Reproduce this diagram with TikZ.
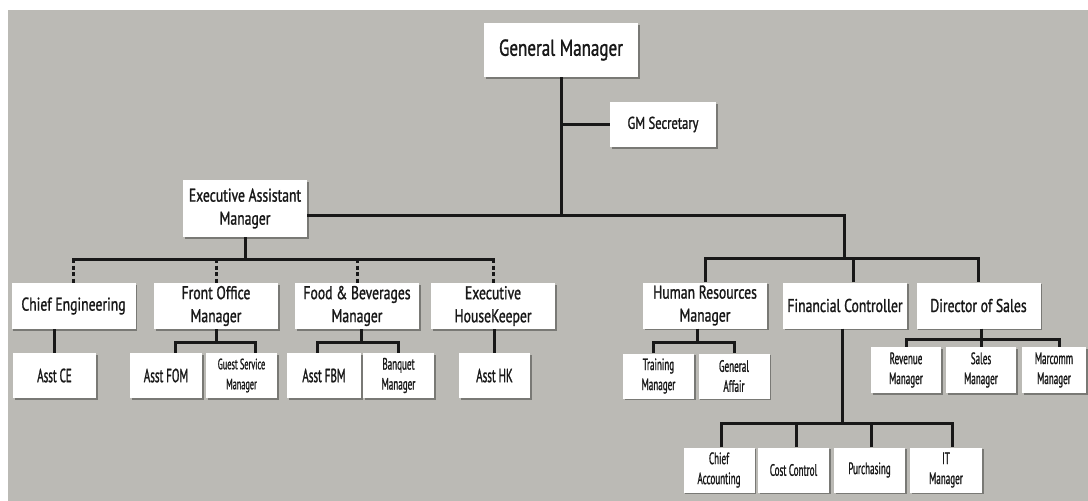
\documentclass[tikz,border=0pt]{standalone}
\usepackage{fontspec}
\setmainfont{PT Sans}[FakeStretch=0.74, FakeBold=1.2]
\newfontfamily\narrowfont{PT Sans}[FakeStretch=0.58, FakeBold=1.2]
\newfontfamily\tallfont{PT Sans}[FakeStretch=0.55, FakeBold=1]
\usetikzlibrary{shadows}
\definecolor{bggray}{RGB}{187,186,181}
\definecolor{ink}{RGB}{24,24,24}
\tikzset{
  box/.style={fill=white, text=ink, align=center, inner sep=0pt,
    drop shadow={shadow xshift=1.5pt, shadow yshift=-1.5pt, fill=black, opacity=0.35}},
  gmbox/.style={box, minimum width=154, minimum height=54, font=\fontsize{23}{26}\selectfont},
  deptbox/.style={box, minimum width=124, minimum height=46, font=\fontsize{18.5}{23}\selectfont},
  asstbox/.style={box, minimum width=72, minimum height=45, font=\narrowfont\fontsize{19}{20}\selectfont},
  subbox/.style={box, minimum width=71, minimum height=45, font=\tallfont\fontsize{16.5}{20}\selectfont},
  conn/.style={line width=3pt, draw=ink},
  dashstub/.style={conn, dash pattern=on 4pt off 2.5pt},
}
\begin{document}
\begin{tikzpicture}[x=1pt,y=-1pt]
\useasboundingbox (0,0) rectangle (1088,501);
\fill[white] (0,0) rectangle (1088,501);
\fill[bggray] (8,10) rectangle (1088,501);

% top of the chart
\node[gmbox] (gm) at (561,50) {General Manager};
\node[deptbox, minimum width=106, minimum height=45, font=\fontsize{17}{20}\selectfont] (sec) at (663,124.5) {GM Secretary};
\node[deptbox, minimum height=57] (eam) at (245,208.5) {Executive Assistant\\Manager};

% departments
\node[deptbox] (ce) at (73.5,306) {Chief Engineering};
\node[deptbox] (fom) at (216,306) {Front Office\\Manager};
\node[deptbox] (fb) at (357,306) {Food \& Beverages\\Manager};
\node[deptbox] (ehk) at (493,306) {Executive\\HouseKeeper};
\node[deptbox] (hr) at (705,305.5) {Human Resources\\Manager};
\node[deptbox] (fc) at (845,305.5) {Financial Controller};
\node[deptbox] (ds) at (978.5,305.5) {Director of Sales};

% sections
\node[asstbox, minimum width=83] (ace) at (54.5,375.5) {Asst CE};
\node[asstbox] (afom) at (166,375.5) {Asst FOM};
\node[subbox, font=\tallfont\fontsize{15}{20}\selectfont] (gsm) at (241.5,375.5) {Guest Service\\Manager};
\node[asstbox, minimum width=74] (afbm) at (324,375.5) {Asst FBM};
\node[subbox] (bqm) at (398.5,375.5) {Banquet\\Manager};
\node[asstbox, minimum width=71] (ahk) at (494.5,375.5) {Asst HK};
\node[subbox] (trm) at (658.5,376) {Training\\Manager};
\node[subbox] (gaf) at (734,376) {General\\Affair};
\node[subbox, minimum width=70, minimum height=46] (rvm) at (906,370) {Revenue\\Manager};
\node[subbox, minimum width=70, minimum height=46] (slm) at (981,370) {Sales\\Manager};
\node[subbox, minimum width=64, minimum height=46] (mcm) at (1054,370) {Marcomm\\Manager};
\node[subbox] (cac) at (719,470) {Chief\\Accounting};
\node[subbox] (ccn) at (793.5,470) {Cost Control};
\node[subbox] (pur) at (869.5,470) {Purchasing};
\node[subbox, minimum width=72] (itm) at (946,470) {IT\\Manager};

% lines from the GM
\coordinate (gmbus) at (561,215);
\coordinate (rbus) at (844,258);
\coordinate (ebus) at (245,259);
\draw[conn] (gm.south) -- (gmbus);
\draw[conn] (gm.south |- sec.west) -- (sec.west);
\draw[conn] (eam.east |- gmbus) -| (rbus);
\draw[conn] (hr.north) |- (rbus) -| (ds.north);
\draw[conn] ([xshift=8pt]fc.north) -- ([xshift=8pt]fc.north |- rbus);

% EAM and its departments
\draw[conn] (eam.south) -- (ebus);
\draw[conn, line cap=rect] (ce.north |- ebus) -- (ehk.north |- ebus);
\foreach \d in {ce,fom,fb,ehk}
  \draw[dashstub] (\d.north |- ebus) -- (\d.north);

% sections under each head
\draw[conn] (ace.north) -- (ace.north |- ce.south);
\draw[conn] (fom.south) -- +(0,13) coordinate (fomj);
\draw[conn] ([xshift=9pt]afom.north) |- (fomj) -| ([xshift=14pt]gsm.north);
\draw[conn] ([xshift=4pt]fb.south) -- +(0,13) coordinate (fbj);
\draw[conn] ([xshift=-7pt]afbm.north) |- (fbj) -| (bqm.north);
\draw[conn] (ahk.north) -- (ahk.north |- ehk.south);
\draw[conn] ([xshift=-8pt]hr.south) -- +(0,13.5) coordinate (hrj);
\draw[conn] ([xshift=-5pt]trm.north) |- (hrj) -| (gaf.north);
\draw[conn] ([xshift=2.5pt]ds.south) -- +(0,10.5) coordinate (dsj);
\draw[conn] (rvm.north) |- (dsj) -| ([xshift=5pt]mcm.north);
\draw[conn] (slm.north) -- (slm.north |- dsj);
\draw[conn] ([xshift=-3pt]fc.south) -- +(0,94.5) coordinate (fcj);
\draw[conn] ([xshift=2pt]cac.north) |- (fcj) -| ([xshift=6pt]itm.north);
\draw[conn] ([xshift=2.5pt]ccn.north) -- ([xshift=2.5pt]ccn.north |- fcj);
\draw[conn] ([xshift=1.5pt]pur.north) -- ([xshift=1.5pt]pur.north |- fcj);
\end{tikzpicture}
\end{document}
